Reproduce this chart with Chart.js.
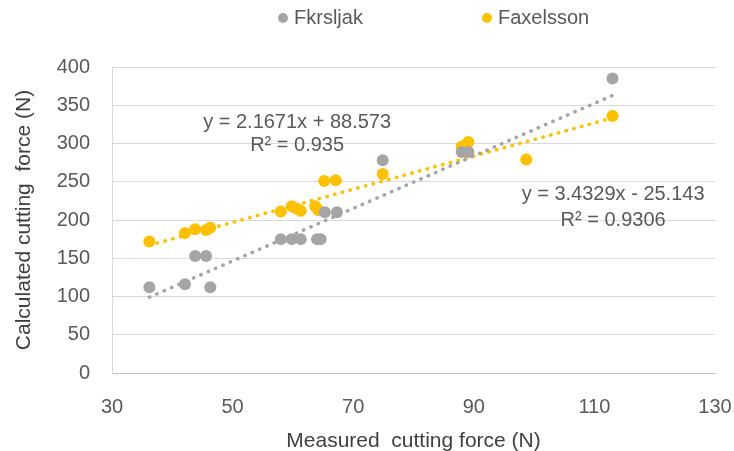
<!DOCTYPE html>
<html>
<head>
<meta charset="utf-8">
<script src="https://cdn.jsdelivr.net/npm/chart.js@4"></script>
<style>
  html, body { margin: 0; padding: 0; background: #fff; }
  #wrap { width: 734px; height: 451px; }
</style>
</head>
<body>
<div id="wrap"><canvas id="myChart1"></canvas></div>
<script>
const ctx = document.getElementById('myChart1');

// measured cutting force (x) and calculated cutting force (y)
const fkrsljakX = [36.2, 42.1, 43.8, 45.6, 46.3, 58.0, 59.8, 61.3, 64.0, 64.6, 65.3, 67.3, 74.9, 88.0, 89.1, 113.0];
const fkrsljakY = [112, 116, 153, 153, 112, 175, 175, 175, 175, 175, 210, 210, 278, 289, 289, 385];
const faxelssonX = [36.2, 42.1, 43.8, 45.6, 46.3, 58.0, 59.8, 60.6, 61.3, 63.7, 64.2, 65.2, 67.1, 74.9, 88.0, 89.1, 98.7, 113.0];
const faxelssonY = [172, 183, 188, 187, 190, 211, 218, 215, 212, 218, 213, 251, 252, 260, 296, 302, 279, 336];

// trend line end points
const trendFkX = [36.2, 113.0];
const trendFkY = [99.1, 362.8];
const trendFaX = [36.2, 113.0];
const trendFaY = [167.0, 333.4];

const xTicks = [30, 50, 70, 90, 110, 130];
const yTicks = [0, 50, 100, 150, 200, 250, 300, 350, 400];

const labelsTrend = [
  { x: 60.7, y: 328, text: 'y = 2.1671x + 88.573' },
  { x: 60.7, y: 297, text: 'R² = 0.935' },
  { x: 113.1, y: 234, text: 'y = 3.4329x - 25.143' },
  { x: 113.1, y: 200, text: 'R² = 0.9306' }
];

const GRAY = '#A5A5A5';
const GOLD = '#FFC000';
const FONT = "'Liberation Sans', sans-serif";

function pts(xs, ys) {
  return xs.map((x, i) => ({ x: x, y: ys[i] }));
}

// trend equations + legend along the top
const extras = {
  id: 'extras',
  afterDatasetsDraw(chart) {
    const c = chart.ctx;
    const sx = chart.scales.x, sy = chart.scales.y;
    c.save();
    c.font = '20px ' + FONT;
    c.fillStyle = '#595959';
    c.textAlign = 'center';
    c.textBaseline = 'middle';
    labelsTrend.forEach(l => {
      c.fillText(l.text, sx.getPixelForValue(l.x), sy.getPixelForValue(l.y));
    });

    // legend
    const items = [
      { text: chart.data.datasets[0].label, color: GRAY, x: 283 },
      { text: chart.data.datasets[1].label, color: GOLD, x: 487 }
    ];
    c.textAlign = 'left';
    items.forEach(it => {
      c.fillStyle = it.color;
      c.beginPath();
      c.arc(it.x, 18, 5, 0, Math.PI * 2);
      c.fill();
      c.fillStyle = '#595959';
      c.fillText(it.text, it.x + 11, 18);
    });
    c.restore();
  }
};

new Chart(ctx, {
  type: 'scatter',
  data: {
    datasets: [{
      label: 'Fkrsljak',
      data: pts(fkrsljakX, fkrsljakY),
      backgroundColor: GRAY,
      borderColor: GRAY,
      pointRadius: 6,
      pointBorderWidth: 0
    }, {
      label: 'Faxelsson',
      data: pts(faxelssonX, faxelssonY),
      backgroundColor: GOLD,
      borderColor: GOLD,
      pointRadius: 6,
      pointBorderWidth: 0
    }, {
      label: 'trend1',
      type: 'line',
      data: pts(trendFkX, trendFkY),
      borderColor: GRAY,
      borderWidth: 3.5,
      borderDash: [0.5, 7.5],
      borderCapStyle: 'round',
      pointRadius: 0
    }, {
      label: 'trend2',
      type: 'line',
      data: pts(trendFaX, trendFaY),
      borderColor: GOLD,
      borderWidth: 3.5,
      borderDash: [0.5, 7.5],
      borderCapStyle: 'round',
      pointRadius: 0
    }]
  },
  options: {
    responsive: true,
    maintainAspectRatio: false,
    animation: false,
    layout: { padding: { left: 0, right: 19, top: 67, bottom: 0 } },
    plugins: {
      legend: { display: false },
      tooltip: { enabled: false }
    },
    scales: {
      x: {
        type: 'linear',
        min: 30,
        max: 130,
        afterBuildTicks: s => { s.ticks = xTicks.map(v => ({ value: v })); },
        afterFit: s => { s.height = 78; s.paddingLeft = 0; s.paddingRight = 0; },
        grid: { display: false, drawTicks: false },
        border: { display: true, color: '#BFBFBF', width: 1 },
        ticks: { color: '#595959', padding: 22, font: { family: FONT, size: 20 } },
        title: {
          display: true,
          text: 'Measured  cutting force (N)',
          color: '#404040',
          font: { family: FONT, size: 21 },
          padding: { top: 0, bottom: -3 }
        }
      },
      y: {
        type: 'linear',
        min: 0,
        max: 400,
        afterBuildTicks: s => { s.ticks = yTicks.map(v => ({ value: v })); },
        afterFit: s => { s.width = 112; s.paddingTop = 0; s.paddingBottom = 0; },
        grid: { color: '#D9D9D9', drawTicks: false },
        border: { display: true, color: '#D9D9D9', width: 1 },
        ticks: { color: '#595959', padding: 22, font: { family: FONT, size: 20 } },
        title: {
          display: true,
          text: 'Calculated cutting  force (N)',
          color: '#404040',
          font: { family: FONT, size: 21 },
          padding: { top: 12, bottom: 0 }
        }
      }
    }
  },
  plugins: [extras]
});
</script>
</body>
</html>
